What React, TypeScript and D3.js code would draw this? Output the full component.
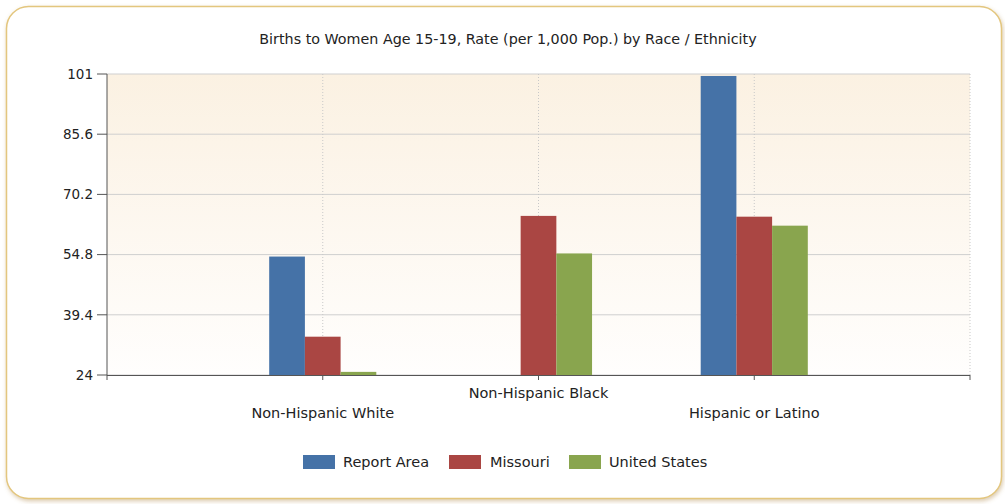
import React from "react";
import * as d3 from "d3";

const categories = ["Non-Hispanic White", "Non-Hispanic Black", "Hispanic or Latino"];
const seriesNames = ["Report Area", "Missouri", "United States"];
const reportArea: (number | null)[] = [54.3, null, 100.5];
const missouri: (number | null)[] = [33.8, 64.7, 64.5];
const unitedStates: (number | null)[] = [24.8, 55.1, 62.2];
const yTicks = [24, 39.4, 54.8, 70.2, 85.6, 101];
const colors = ["#4572a7", "#aa4643", "#89a54e"];
const title = "Births to Women Age 15-19, Rate (per 1,000 Pop.) by Race / Ethnicity";

export default function App() {
  const W = 1005, H = 504;
  const left = 107, right = 970, top = 74, bottom = 375;
  const series = [reportArea, missouri, unitedStates];
  const x = d3.scaleLinear().domain([0, categories.length + 1]).range([left, right]);
  const y = d3.scaleLinear().domain([24, 101]).range([bottom, top]);
  const barW = 35.7;
  const font = "'DejaVu Sans', Verdana, sans-serif";
  const xTickVals = d3.range(0, categories.length + 2);

  const legendItems = [
    { x: 303, tx: 343 },
    { x: 449, tx: 490 },
    { x: 569, tx: 609 },
  ];

  return (
    <div style={{ position: "absolute", left: 0, top: 0 }}>
      <svg width={W} height={H} style={{ display: "block" }}>
        <defs>
          <linearGradient id="plotbg" x1="0" y1="0" x2="0" y2="1">
            <stop offset="0" stopColor="#fbf1e2" />
            <stop offset="1" stopColor="#fffefd" />
          </linearGradient>
          <filter id="shadow" x="-5%" y="-5%" width="110%" height="115%">
            <feDropShadow dx="1" dy="2" stdDeviation="2" floodColor="#b08a4a" floodOpacity="0.45" />
          </filter>
        </defs>
        <rect x={0} y={0} width={W} height={H} fill="#ffffff" />
        <rect x={6.5} y={6.5} width={995} height={492} rx={22} ry={22}
          fill="#ffffff" stroke="#e3c67e" strokeWidth={1.5} filter="url(#shadow)" />
        <text x={508} y={44} textAnchor="middle" fontFamily={font} fontSize={14.3} fill="#222">{title}</text>

        <rect x={left} y={top} width={right - left} height={bottom - top} fill="url(#plotbg)" />
        {yTicks.map((t, i) => (
          <line key={"g" + i} x1={left} x2={right} y1={y(t)} y2={y(t)} stroke="#cfcfcf" strokeWidth={1} />
        ))}
        {xTickVals.slice(1).map((v) => (
          <line key={"vg" + v} x1={x(v)} x2={x(v)} y1={top} y2={bottom}
            stroke="#c8c8c8" strokeWidth={1} strokeDasharray="1,2" />
        ))}

        {categories.map((c, ci) =>
          series.map((s, si) => {
            const v = s[ci];
            if (v == null) return null;
            const bx = x(ci + 1) - 1.5 * barW + si * barW;
            return (
              <rect key={c + si} x={bx} y={y(v)} width={barW} height={y(24) - y(v)} fill={colors[si]} />
            );
          })
        )}

        <line x1={left} x2={left} y1={top} y2={bottom} stroke="#555" strokeWidth={1} />
        <line x1={left} x2={right} y1={bottom + 0.5} y2={bottom + 0.5} stroke="#555" strokeWidth={1.2} />
        {yTicks.map((t, i) => (
          <g key={"yt" + i}>
            <line x1={left - 10} x2={left} y1={y(t)} y2={y(t)} stroke="#555" />
            <text x={left - 14} y={y(t)} dy="0.35em" textAnchor="end" fontFamily={font} fontSize={13.5} fill="#222">{t}</text>
          </g>
        ))}
        {xTickVals.map((v) => (
          <line key={"xt" + v} x1={x(v)} x2={x(v)} y1={bottom} y2={bottom + 5} stroke="#555" />
        ))}
        {categories.map((c, ci) => (
          <text key={c} x={x(ci + 1)} y={ci % 2 === 1 ? 398 : 418} textAnchor="middle"
            fontFamily={font} fontSize={14.5} fill="#222">{c}</text>
        ))}

        {seriesNames.map((n, i) => (
          <g key={n}>
            <rect x={legendItems[i].x} y={455} width={32} height={14} fill={colors[i]} />
            <text x={legendItems[i].tx} y={467} fontFamily={font} fontSize={14.5} fill="#222">{n}</text>
          </g>
        ))}
      </svg>
    </div>
  );
}
